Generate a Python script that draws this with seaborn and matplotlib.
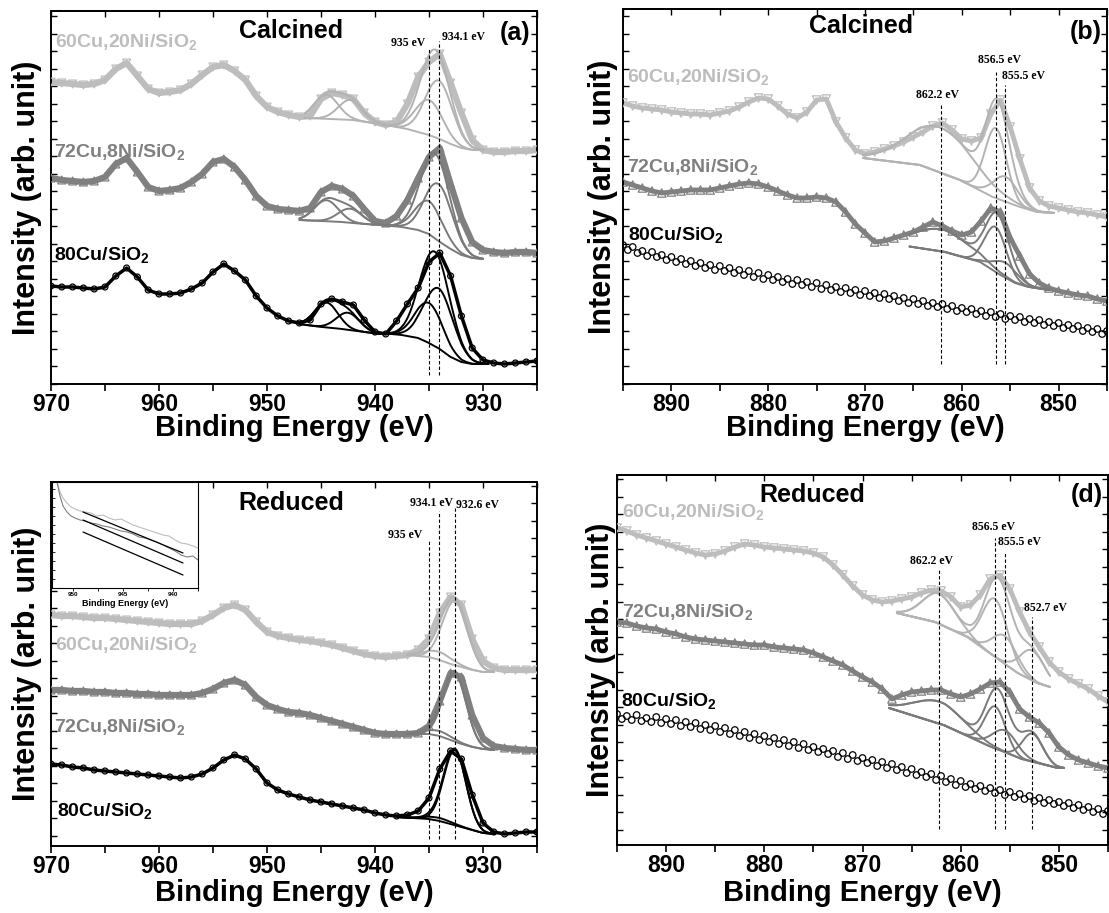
import numpy as np
import pandas as pd
import matplotlib
matplotlib.use("Agg")
import matplotlib.pyplot as plt
import seaborn as sns
from matplotlib.ticker import MultipleLocator

sns.set_style("ticks")
plt.rcParams.update({
    "font.family": ["Liberation Sans", "DejaVu Sans"],
    "font.weight": "bold",
    "axes.labelweight": "bold",
    "mathtext.fontset": "custom",
    "mathtext.rm": "Liberation Sans:bold",
    "mathtext.it": "Liberation Sans:bold",
    "mathtext.bf": "Liberation Sans:bold",
    "axes.linewidth": 1.4,
    "text.color": "black",
    "axes.labelcolor": "black",
    "xtick.color": "black",
    "ytick.color": "black",
    "axes.edgecolor": "black",
})

# ======================= DATA =======================
# (a) Cu 2p calcined, 970 -> 925 eV, step 1 eV
E_A = list(range(970, 924, -1))
A_60 = [302, 301, 300, 299, 300, 304, 315, 321, 308, 295,
        291, 292, 294, 300, 309, 317, 319, 313, 304, 288,
        277, 272, 269, 267, 268, 285, 291, 289, 285, 271,
        262, 259, 262, 280, 307, 322, 330, 301, 271, 244,
        234, 232, 232, 233, 233, 234]
A_72 = [206, 204, 203, 202, 203, 207, 220, 226, 212, 197,
        193, 194, 196, 202, 210, 222, 225, 217, 204, 188,
        178, 175, 174, 173, 176, 192, 198, 195, 188, 175,
        163, 161, 168, 184, 206, 227, 236, 200, 166, 142,
        134, 132, 131, 132, 132, 131]
A_80 = [98, 97, 97, 96, 95, 97, 108, 116, 107, 94,
        90, 90, 91, 95, 101, 112, 120, 113, 104, 88,
        76, 68, 63, 61, 64, 80, 85, 82, 79, 64,
        52, 50, 63, 80, 96, 122, 131, 108, 68, 36,
        24, 21, 20, 21, 22, 23]
# fitted backgrounds (E, I) and peaks (centre, height, fwhm)
A_60_SAT_BG_E = [946.5, 944, 942, 939]
A_60_SAT_BG_I = [266, 265, 264, 259]
A_60_SAT_PK = [(944.5, 24, 2.6), (942.3, 20, 2.6)]
A_60_MAIN_BG_E = [939, 937, 936, 935, 934, 933, 932, 931, 930]
A_60_MAIN_BG_I = [259, 255, 252, 249, 245, 240, 236, 234, 234]
A_60_MAIN_PK = [(935.0, 35, 3.0), (934.1, 58, 3.0)]
A_72_SAT_BG_E = [947, 945, 943, 941, 939.5]
A_72_SAT_BG_I = [164, 163, 162, 160, 159]
A_72_SAT_PK = [(944.5, 21, 2.6), (942.3, 14, 2.6)]
A_72_MAIN_BG_E = [939.5, 937.5, 936, 935, 934, 933, 932, 931, 930]
A_72_MAIN_BG_I = [159, 157, 154, 150, 142, 135, 129, 126, 125]
A_72_MAIN_PK = [(935.0, 33, 3.0), (934.1, 57, 3.0)]
A_80_SAT_BG_E = [947, 945, 943, 941, 939.5]
A_80_SAT_BG_I = [60, 57, 55, 52, 50]
A_80_SAT_PK = [(944.5, 25, 2.5), (942.5, 17, 2.5)]
A_80_MAIN_BG_E = [939.5, 937.5, 936, 935, 934, 933, 932, 931, 930, 929.5]
A_80_MAIN_BG_I = [51, 49, 46, 41, 35, 27, 22, 20, 20, 20]
A_80_MAIN_PK = [(935.0, 40, 3.0), (934.1, 60, 3.2)]
A_MARK_E = [935.0, 934.1]
A_MARK_TOP = [336, 343]
A_MARK_LBL = ["935 eV", "934.1 eV"]

# (b) Ni 2p calcined, 895 -> 845 eV, step 1 eV
E_B = list(range(895, 844, -1))
B_60 = [281, 278, 276, 275, 274, 272, 271, 270, 270, 269,
        271, 273, 277, 282, 286, 285, 278, 270, 266, 272,
        284, 285, 262, 246, 234, 230, 232, 235, 238, 242,
        247, 252, 258, 261, 254, 245, 243, 246, 270, 284,
        257, 225, 196, 183, 178, 176, 174, 172, 171, 169,
        167]
B_72 = [202, 199, 196, 193, 191, 192, 193, 194, 194, 194,
        196, 198, 200, 201, 200, 197, 193, 189, 186, 186,
        187, 186, 182, 172, 160, 151, 142, 143, 146, 149,
        152, 157, 162, 158, 153, 149, 152, 163, 176, 172,
        146, 128, 110, 101, 96, 93, 91, 89, 88, 85,
        83]
E_B80 = list(np.arange(895.0, 844.9, -0.5))
B_80 = [139, 134, 137, 131, 133, 128, 132, 127, 129, 124,
        127, 122, 125, 120, 123, 118, 121, 116, 119, 114,
        118, 113, 116, 111, 114, 109, 113, 107, 111, 105,
        109, 104, 107, 102, 105, 100, 104, 99, 102, 97,
        101, 95, 99, 94, 97, 92, 96, 91, 94, 89,
        93, 88, 91, 86, 90, 85, 88, 83, 86, 81,
        85, 80, 83, 78, 81, 77, 80, 75, 78, 73,
        76, 72, 75, 70, 73, 68, 72, 67, 70, 65,
        68, 64, 67, 62, 65, 61, 64, 59, 62, 58,
        61, 56, 59, 55, 58, 53, 56, 52, 55, 50,
        53]
B_60_BG_E = [870.2, 864.3, 860.2, 856.8, 854, 852.2, 850.5]
B_60_BG_I = [226, 219, 204, 187, 177, 172, 171]
B_60_PK = [(862.2, 45, 8.0), (856.5, 70, 2.6), (855.5, 25, 3.0)]
B_72_BG_E = [865.4, 861.7, 858.1, 856.1, 854.5, 853.1, 851]
B_72_BG_I = [137.5, 132, 122, 109.5, 101, 97, 94]
B_72_PK = [(862.2, 22, 7.0), (856.5, 45, 2.6), (855.5, 15, 3.0)]
B_MARK_E = [862.2, 856.5, 855.5]
B_MARK_TOP = [281, 312, 299]
B_MARK_LBL = ["862.2 eV", "856.5 eV", "855.5 eV"]

# (c) Cu 2p reduced, 970 -> 925 eV
E_C = list(range(970, 924, -1))
C_60 = [238, 237, 237, 236, 235, 235, 234, 233, 232, 231,
        230, 229, 229, 229, 232, 238, 245, 248, 243, 231,
        221, 217, 215, 213, 212, 210, 208, 205, 202, 199,
        197, 196, 197, 198, 203, 214, 240, 256, 248, 214,
        192, 185, 183, 183, 183, 183]
C_72 = [163, 163, 162, 162, 161, 161, 160, 160, 159, 159,
        158, 158, 158, 158, 160, 164, 170, 173, 168, 156,
        148, 144, 141, 140, 138, 135, 132, 129, 126, 123,
        120, 119, 119, 119, 120, 127, 152, 180, 176, 138,
        115, 107, 105, 104, 103, 103]
C_80 = [89, 88, 86, 85, 83, 82, 81, 80, 79, 78,
        77, 76, 75, 76, 79, 85, 93, 98, 94, 84,
        70, 63, 59, 56, 53, 51, 49, 47, 45, 43,
        40, 38, 37, 38, 42, 55, 84, 102, 94, 58,
        30, 21, 19, 20, 21, 21]
C_60_BG_E = [937, 935, 934, 933, 932, 931, 930, 929]
C_60_BG_I = [198, 196, 193, 189, 186, 183, 181, 181]
C_60_PK = [(934.1, 8, 3.0), (932.6, 64, 2.7)]
C_72_BG_E = [937, 935, 934, 933, 932, 931, 930, 929]
C_72_BG_I = [119, 119, 117, 113, 109, 106, 104, 103]
C_72_PK = [(934.1, 5, 3.0), (932.6, 68, 2.5)]
C_80_BG_E = [938, 935, 934, 933, 932, 931, 930, 929]
C_80_BG_I = [36, 34, 32, 29, 26, 23, 20, 19]
C_80_PK = [(934.1, 3, 3.0), (932.6, 75, 2.4)]
C_MARK_E = [935.0, 934.1, 932.6]
C_MARK_TOP = [313, 342, 345]
C_MARK_LBL = ["935 eV", "934.1 eV", "932.6 eV"]
# inset (satellite region)
INS_E = [951.6, 951.3, 951.0, 950.6, 950.2, 949.8, 949.3, 948.8, 948.2, 947.6,
         947.0, 946.4, 945.8, 945.2, 944.6, 944.0, 943.4, 942.8, 942.2, 941.6,
         941.0, 940.4, 939.8, 939.2, 938.6, 938.0, 937.5]
INS_60 = [106, 96, 90, 85, 81, 79, 77, 76, 75, 72, 73, 70, 68, 69, 66, 63, 61, 59,
          57, 55, 53, 52, 48, 45, 44, 42, 40]
INS_72 = [106, 92, 82, 76, 72, 70, 68, 67, 65, 64, 62, 61, 59, 57, 56, 54, 51, 50,
          48, 46, 43, 40, 37, 33, 31, 32, 28]
INS_REF_E = [949.0, 939.0]
INS_REF_1 = [76, 35]
INS_REF_2 = [68, 25]
INS_REF_3 = [56, 13]

# (d) Ni 2p reduced, 895 -> 845 eV
E_D = list(range(895, 844, -1))
D_60 = [319, 316, 312, 309, 306, 303, 300, 297, 294, 292,
        293, 296, 300, 303, 302, 300, 299, 298, 297, 296,
        294, 290, 282, 272, 261, 252, 247, 245, 246, 248,
        250, 254, 257, 256, 250, 240, 242, 252, 268, 272,
        258, 235, 215, 200, 185, 175, 168, 163, 158, 151,
        145]
D_72 = [225, 224, 221, 219, 218, 215, 213, 210, 208, 207,
        206, 205, 204, 203, 202, 202, 200, 199, 198, 197,
        194, 190, 186, 182, 176, 170, 165, 158, 148, 152,
        155, 156, 157, 157, 153, 150, 153, 158, 164, 165,
        155, 138, 130, 124, 114, 100, 92, 87, 84, 81,
        79]
E_D80 = list(np.arange(895.0, 844.9, -0.5))
D_80 = [133, 128, 131, 127, 132, 126, 129, 125, 130, 124,
        128, 123, 127, 121, 125, 120, 124, 118, 122, 117,
        121, 115, 119, 113, 117, 111, 115, 109, 113, 107,
        111, 105, 109, 103, 107, 101, 105, 99, 103, 97,
        100, 95, 98, 93, 96, 90, 94, 88, 92, 86,
        89, 84, 87, 81, 85, 79, 83, 77, 80, 74,
        78, 72, 75, 70, 73, 67, 71, 65, 68, 62,
        66, 60, 63, 58, 61, 56, 59, 54, 57, 52,
        55, 50, 53, 48, 51, 46, 49, 44, 47, 43,
        45, 41, 44, 39, 42, 37, 40, 35, 38, 33,
        36]
D_60_BG_E = [866.5, 862.6, 859.3, 856.5, 854.2, 852.2, 850.9]
D_60_BG_I = [234, 225, 210, 190, 174, 164, 160]
D_60_PK = [(862.2, 30, 4.0), (856.5, 58, 3.0), (855.5, 28, 3.0), (852.7, 30, 3.0)]
D_72_BG_E = [867.3, 861.6, 857, 853.8, 850.3, 849.5]
D_72_BG_I = [139, 121.5, 100.5, 88, 79.5, 79]
D_72_PK = [(862.2, 22, 6.0), (856.5, 42, 2.5), (855.5, 22, 3.0), (852.7, 28, 2.5)]
D_MARK_E = [862.2, 856.5, 855.5, 852.7]
D_MARK_TOP = [277, 309, 294, 230]
D_MARK_LBL = ["862.2 eV", "856.5 eV", "855.5 eV", "852.7 eV"]

LBL_60 = "60Cu,20Ni/SiO$_2$"
LBL_72 = "72Cu,8Ni/SiO$_2$"
LBL_80 = "80Cu/SiO$_2$"

# ======================= STYLE / LAYOUT =======================
W, H = 1109, 913
LIGHT, MID, BLACK = "#bdbdbd", "#808080", "#000000"
FIT_LIGHT, FIT_MID = "#b3b3b3", "#7a7a7a"

fig = plt.figure(figsize=(W / 100, H / 100), dpi=100)


def add_ax(l, t, r, b):
    return fig.add_axes([l / W, 1 - b / H, (r - l) / W, (b - t) / H])


def ftext(px, py, s, **kw):
    fig.text(px / W, 1 - py / H, s, **kw)


def draw_spec(ax, E, I, color, marker, s, band_lw):
    df = pd.DataFrame({"E": E, "I": I})
    if band_lw:
        sns.lineplot(data=df, x="E", y="I", ax=ax, color=color, lw=band_lw,
                     estimator=None, sort=False, legend=False, zorder=2)
    sns.scatterplot(data=df, x="E", y="I", ax=ax, marker=marker, s=s,
                    color="none", edgecolor=color, linewidth=0.9,
                    legend=False, zorder=3)


def draw_fit(ax, bgE, bgI, peaks, color):
    e = np.asarray(bgE, float)
    v = np.asarray(bgI, float)
    o = np.argsort(e)
    e, v = e[o], v[o]
    x = np.linspace(e[0], e[-1], 240)
    base = np.interp(x, e, v)
    total = base.copy()
    kw = dict(ax=ax, color=color, lw=1.4, estimator=None, sort=False,
              legend=False, zorder=4)
    sns.lineplot(x=x, y=base, **kw)
    for c, h, w in peaks:
        g = h * np.exp(-4 * np.log(2) * ((x - c) / w) ** 2)
        total += g
        sns.lineplot(x=x, y=base + g, **kw)
    sns.lineplot(x=x, y=total, **kw)


def style_ax(ax, xlim, ylim, ylab_x, xlab_y):
    ax.set_xlim(*xlim)
    ax.set_ylim(*ylim)
    ax.xaxis.set_major_locator(MultipleLocator(10))
    ax.xaxis.set_minor_locator(MultipleLocator(5))
    ax.yaxis.set_major_locator(MultipleLocator(17.5))
    ax.tick_params(axis="x", which="both", direction="out", length=5,
                   width=1.2, top=False, labelsize=16.5, pad=1.5)
    ax.tick_params(axis="y", which="both", direction="in", length=4,
                   width=1, left=True, right=True, labelleft=False)
    sec = ax.secondary_xaxis("top")
    sec.xaxis.set_major_locator(MultipleLocator(5))
    sec.tick_params(direction="in", length=4, width=1, labeltop=False)
    sec.spines["top"].set_linewidth(1.4)
    for sp in ax.spines.values():
        sp.set_visible(True)
        sp.set_linewidth(1.4)
        sp.set_color("black")
    ax.set_xlabel("Binding Energy (eV)", fontsize=21, va="center")
    ax.xaxis.set_label_coords(0.5, xlab_y)
    ax.set_ylabel("Intensity (arb. unit)", fontsize=22, va="center")
    ax.yaxis.set_label_coords(ylab_x, 0.5)


def marks(ax, E, top, bottom):
    ax.vlines(E, [bottom] * len(E), top, colors="black", linestyles=(0, (3, 2)),
              lw=0.8, zorder=5)


def ann(px, py, s):
    ftext(px, py, s, family="Liberation Serif", fontsize=8.5, fontweight="bold",
          ha="center", va="center")


# ---------------- panel (a) ----------------
axA = add_ax(51, 11, 537, 384)
draw_spec(axA, E_A, A_60, LIGHT, "v", 32, 4.5)
draw_spec(axA, E_A, A_72, MID, "^", 32, 4.5)
draw_spec(axA, E_A, A_80, BLACK, "o", 18, 2.5)
draw_fit(axA, A_60_SAT_BG_E, A_60_SAT_BG_I, A_60_SAT_PK, FIT_LIGHT)
draw_fit(axA, A_60_MAIN_BG_E, A_60_MAIN_BG_I, A_60_MAIN_PK, FIT_LIGHT)
draw_fit(axA, A_72_SAT_BG_E, A_72_SAT_BG_I, A_72_SAT_PK, FIT_MID)
draw_fit(axA, A_72_MAIN_BG_E, A_72_MAIN_BG_I, A_72_MAIN_PK, FIT_MID)
draw_fit(axA, A_80_SAT_BG_E, A_80_SAT_BG_I, A_80_SAT_PK, BLACK)
draw_fit(axA, A_80_MAIN_BG_E, A_80_MAIN_BG_I, A_80_MAIN_PK, BLACK)
marks(axA, A_MARK_E, A_MARK_TOP, 9)
style_ax(axA, (970, 925), (0, 373), -0.049, -0.118)
ann(408, 43, A_MARK_LBL[0])
ann(463, 37, A_MARK_LBL[1])
ftext(291, 31, "Calcined", fontsize=18, ha="center", va="center")
ftext(515, 33, "(a)", fontsize=18, ha="center", va="center")
ftext(55, 47, LBL_60, fontsize=14, color=LIGHT, ha="left", va="baseline")
ftext(54, 157, LBL_72, fontsize=14, color=MID, ha="left", va="baseline")
ftext(54, 260, LBL_80, fontsize=14, color=BLACK, ha="left", va="baseline")

# ---------------- panel (b) ----------------
axB = add_ax(623, 9, 1107, 384)
draw_spec(axB, E_B, B_60, LIGHT, "v", 36, 3.5)
draw_spec(axB, E_B, B_72, MID, "^", 36, 3.5)
draw_spec(axB, E_B80, B_80, BLACK, "o", 22, None)
draw_fit(axB, B_60_BG_E, B_60_BG_I, B_60_PK, FIT_LIGHT)
draw_fit(axB, B_72_BG_E, B_72_BG_I, B_72_PK, FIT_MID)
marks(axB, B_MARK_E, B_MARK_TOP, 20)
style_ax(axB, (895, 845), (0, 375), -0.041, -0.117)
ann(937, 95, B_MARK_LBL[0])
ann(1000, 60, B_MARK_LBL[1])
ann(1024, 76, B_MARK_LBL[2])
ftext(861, 26, "Calcined", fontsize=18, ha="center", va="center")
ftext(1086, 32, "(b)", fontsize=18, ha="center", va="center")
ftext(627, 82, LBL_60, fontsize=14, color=LIGHT, ha="left", va="baseline")
ftext(627, 172, LBL_72, fontsize=14, color=MID, ha="left", va="baseline")
ftext(628, 240, LBL_80, fontsize=14, color=BLACK, ha="left", va="baseline")

# ---------------- panel (c) ----------------
axC = add_ax(51, 482, 537, 846)
draw_spec(axC, E_C, C_60, LIGHT, "v", 32, 4.5)
draw_spec(axC, E_C, C_72, MID, "^", 32, 4.5)
draw_spec(axC, E_C, C_80, BLACK, "o", 18, 2.5)
draw_fit(axC, C_60_BG_E, C_60_BG_I, C_60_PK, FIT_LIGHT)
draw_fit(axC, C_72_BG_E, C_72_BG_I, C_72_PK, FIT_MID)
draw_fit(axC, C_80_BG_E, C_80_BG_I, C_80_PK, BLACK)
marks(axC, C_MARK_E, C_MARK_TOP, 14)
style_ax(axC, (970, 925), (7, 371), -0.049, -0.13)
ann(405, 535, C_MARK_LBL[0])
ann(431, 503, C_MARK_LBL[1])
ann(478, 505, C_MARK_LBL[2])
ftext(291, 503, "Reduced", fontsize=18, ha="center", va="center")
ftext(55, 650, LBL_60, fontsize=14, color=LIGHT, ha="left", va="baseline")
ftext(54, 732, LBL_72, fontsize=14, color=MID, ha="left", va="baseline")
ftext(57, 816, LBL_80, fontsize=14, color=BLACK, ha="left", va="baseline")

axI = add_ax(52, 482, 198, 588)
axI.set_facecolor("white")
sns.lineplot(x=INS_E, y=INS_60, ax=axI, color=LIGHT, lw=0.8, estimator=None,
             sort=False, legend=False)
sns.lineplot(x=INS_E, y=INS_72, ax=axI, color=MID, lw=0.8, estimator=None,
             sort=False, legend=False)
for ref in (INS_REF_1, INS_REF_2, INS_REF_3):
    sns.lineplot(x=INS_REF_E, y=ref, ax=axI, color="black", lw=0.9,
                 estimator=None, sort=False, legend=False)
axI.set_xlim(952.1, 937.5)
axI.set_ylim(0, 106)
axI.set_xticks([950, 945, 940])
axI.xaxis.set_minor_locator(MultipleLocator(2.5))
axI.yaxis.set_major_locator(MultipleLocator(9))
axI.tick_params(axis="x", which="both", direction="out", length=2, width=0.6,
                labelsize=4.5, pad=1)
axI.tick_params(axis="y", which="both", direction="in", length=2, width=0.6,
                labelleft=False, left=True)
axI.set_xlabel("Binding Energy (eV)", fontsize=6.5, labelpad=1)
axI.set_ylabel("")
for sp in axI.spines.values():
    sp.set_visible(True)
    sp.set_linewidth(0.8)

# ---------------- panel (d) ----------------
axD = add_ax(617, 475, 1108, 845)
draw_spec(axD, E_D, D_60, LIGHT, "v", 36, 3.5)
draw_spec(axD, E_D, D_72, MID, "^", 36, 3.5)
draw_spec(axD, E_D80, D_80, BLACK, "o", 22, None)
draw_fit(axD, D_60_BG_E, D_60_BG_I, D_60_PK, FIT_LIGHT)
draw_fit(axD, D_72_BG_E, D_72_BG_I, D_72_PK, FIT_MID)
marks(axD, D_MARK_E, D_MARK_TOP, 18)
style_ax(axD, (895, 845), (2, 372), -0.033, -0.13)
ann(932, 561, D_MARK_LBL[0])
ann(993, 527, D_MARK_LBL[1])
ann(1020, 542, D_MARK_LBL[2])
ann(1045, 608, D_MARK_LBL[3])
ftext(812, 495, "Reduced", fontsize=18, ha="center", va="center")
ftext(1087, 495, "(d)", fontsize=18, ha="center", va="center")
ftext(622, 517, LBL_60, fontsize=14, color=LIGHT, ha="left", va="baseline")
ftext(622, 617, LBL_72, fontsize=14, color=MID, ha="left", va="baseline")
ftext(621, 706, LBL_80, fontsize=14, color=BLACK, ha="left", va="baseline")

fig.savefig("out.png", dpi=100)
